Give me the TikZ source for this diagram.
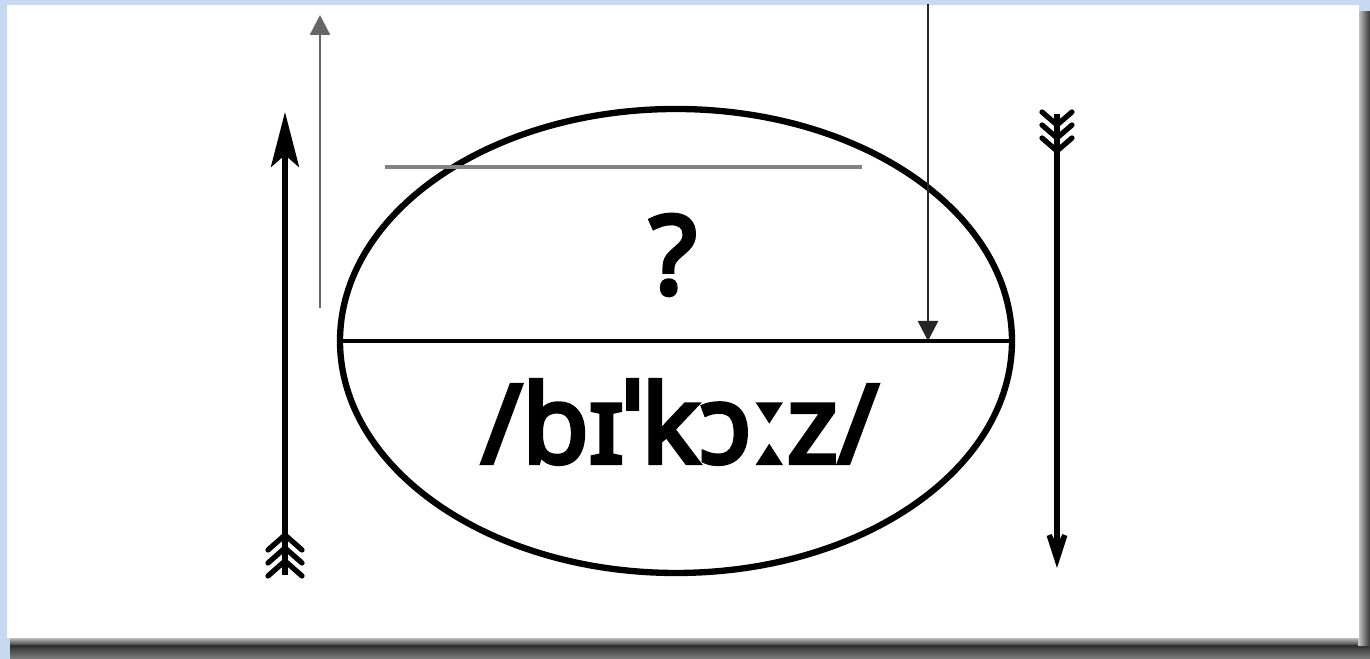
\documentclass[tikz,border=0pt]{standalone}
\usepackage{fontspec}
\newfontfamily\ipafont{Noto Sans}[AutoFakeBold=4]
\usepackage{xcolor}
\usetikzlibrary{arrows.meta, shapes.geometric, positioning, calc}
\definecolor{slideblue}{RGB}{198, 217, 241}
\definecolor{guidegrey}{RGB}{130, 130, 130}

\begin{document}
\begin{tikzpicture}[
    shaft/.style={line width=1.5pt, black},
    feather/.style={line width=1.5pt, black, line cap=round},
    pointer/.style={line width=0.7pt},
    bigtext/.style={font=\ipafont\bfseries\fontsize{31}{36}\selectfont}
  ]
    \useasboundingbox (0,0) rectangle (13.70,6.59);

    % Slide background, shadow and white panel
    \fill[slideblue] (0,0) rectangle (13.70,6.59);
    \shade[top color=black!20, bottom color=black!80] (0.10,0.13) rectangle (13.70,0.22);
    \shade[top color=black!80, bottom color=black!50] (0.10,0) rectangle (13.70,0.13);
    \shade[left color=black!20, right color=black!80] (13.58,0.13) rectangle (13.70,6.47);
    \fill[white] (0.07,0.21) rectangle (13.59,6.54);

    % Oval split in two
    \node[ellipse, draw, line width=1.8pt, minimum width=6.72cm,
          minimum height=4.64cm, inner sep=0pt] (oval) at (6.76,3.18) {};
    \draw[line width=1.4pt] (oval.west) -- (oval.east);
    \draw[guidegrey, line width=1pt] (3.85,4.92) -- (8.62,4.92);

    % Texts
    \node[bigtext] (query) at (6.73,4.04) {?};
    \node[bigtext] (ipa) at (6.80,2.37) {/bɪˈkɔːz/};

    % Thin pointers
    \coordinate (upfoot) at (3.20,3.51);
    \coordinate (uptip) at (3.20,6.44);
    \draw[pointer, black!60, -{Triangle[length=0.2cm, width=0.2cm]}] (upfoot) -- (uptip);
    \coordinate (downtop) at (9.28,6.55);
    \draw[pointer, black!85, -{Triangle[length=0.2cm, width=0.2cm]}]
        (downtop) -- (downtop |- oval.center);

    % Left arrow, pointing up
    \coordinate (lefttail) at (2.85,0.84);
    \coordinate (lefthead) at (2.85,5.47);
    \draw[shaft, -{Stealth[length=0.55cm, width=0.28cm, inset=0.12cm]}] (lefttail) -- (lefthead);
    \foreach \y in {0.98,1.11,1.24} {
        \draw[feather] (2.85,\y) -- ++(-0.17,-0.15) (2.85,\y) -- ++(0.17,-0.15);
    }

    % Right arrow, pointing down
    \coordinate (righttail) at (10.57,5.45);
    \coordinate (righthead) at (10.57,0.91);
    \draw[shaft, -{Stealth[length=0.65cm, width=0.42cm, inset=0.42cm]}] (righttail) -- (righthead);
    \foreach \y in {5.08,5.21,5.34} {
        \draw[feather] (10.57,\y) -- ++(-0.15,0.13) (10.57,\y) -- ++(0.15,0.13);
    }
\end{tikzpicture}
\end{document}
